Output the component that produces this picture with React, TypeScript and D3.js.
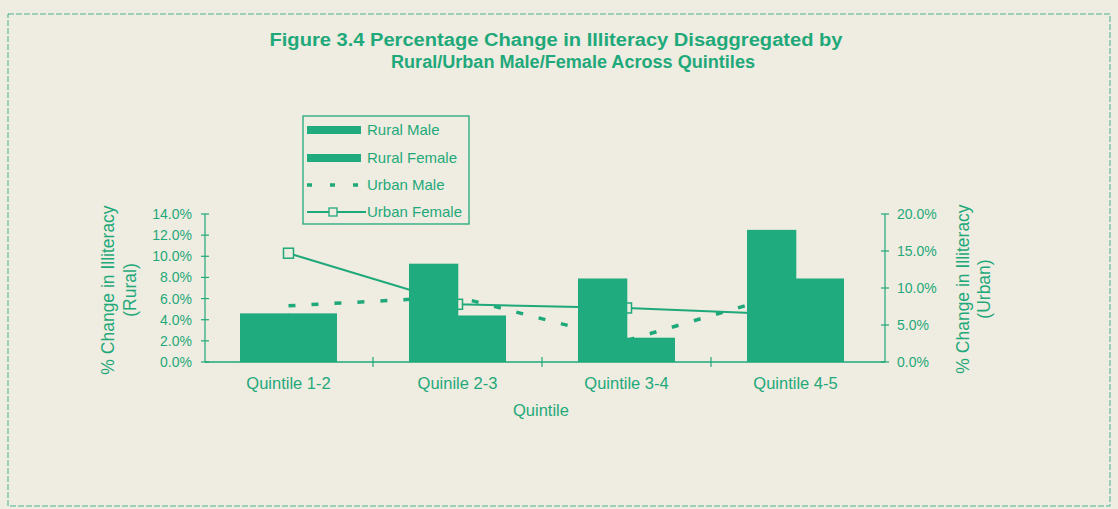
import React from "react";
import * as d3 from "d3";

const quintiles = ["Quintile 1-2", "Quinile 2-3", "Quintile 3-4", "Quintile 4-5"];
const ruralMale = [4.6, 9.3, 7.9, 12.5];
const ruralFemale = [4.6, 4.4, 2.3, 7.9];
const urbanMale = [7.6, 8.8, 2.9, 9.6];
const urbanFemale = [14.7, 7.8, 7.3, 6.4];
const leftTicks = [0, 2, 4, 6, 8, 10, 12, 14];
const rightTicks = [0, 5, 10, 15, 20];
const legendLabels = ["Rural Male", "Rural Female", "Urban Male", "Urban Female"];

const W = 1118;
const H = 509;
const BG = "#efece1";
const GREEN = "#1fa97a";
const BAR = "#1fab7d";
const FONT = "'Liberation Sans', Arial, sans-serif";

export default function App() {
  const x0 = d3.scaleBand<string>().domain(quintiles).range([204, 880]).paddingInner(0.426).paddingOuter(0.213);
  const x1 = d3.scaleBand<string>().domain(["m", "f"]).range([0, x0.bandwidth()]);
  const yL = d3.scaleLinear().domain([0, 14]).range([362, 214]);
  const yR = d3.scaleLinear().domain([0, 20]).range([362, 214]);
  const cx = (q: string) => (x0(q) as number) + x0.bandwidth() / 2;
  const lineGen = d3
    .line<[string, number]>()
    .x((d) => cx(d[0]))
    .y((d) => yR(d[1]));
  const umPts: [string, number][] = quintiles.map((q, i) => [q, urbanMale[i]]);
  const ufPts: [string, number][] = quintiles.map((q, i) => [q, urbanFemale[i]]);
  const step = x0.step();
  const boundaries = [1, 2, 3].map((i) => 204 + step * i);
  const axL = 205;
  const axR = 885;

  const legRows = [130, 158, 185, 212];

  return (
    <div style={{ position: "fixed", left: 0, top: 0, width: W, height: H, background: BG }}>
      <svg width={W} height={H} style={{ display: "block" }} fontFamily={FONT}>
        <rect x={0} y={0} width={W} height={H} fill={BG} />
        {/* outer border */}
        <rect x={8} y={14} width={1102} height={492} fill="none" stroke={GREEN} strokeWidth={1} strokeDasharray="6,2" opacity={0.8} />

        {/* title */}
        <text x={556} y={46} textAnchor="middle" fontSize={18} fontWeight="bold" fill={GREEN} textLength={573} lengthAdjust="spacingAndGlyphs">
          Figure 3.4 Percentage Change in Illiteracy Disaggregated by
        </text>
        <text x={573} y={68} textAnchor="middle" fontSize={18} fontWeight="bold" fill={GREEN} textLength={364} lengthAdjust="spacingAndGlyphs">
          Rural/Urban Male/Female Across Quintiles
        </text>

        {/* urban lines (behind bars) */}
        <path d={lineGen(umPts) || ""} fill="none" stroke={GREEN} strokeWidth={3.5} strokeDasharray="7,16" />
        <path d={lineGen(ufPts) || ""} fill="none" stroke={GREEN} strokeWidth={2} />
        {ufPts.map((p, i) => (
          <rect key={i} x={cx(p[0]) - 5} y={yR(p[1]) - 5} width={10} height={10} fill={BG} stroke={GREEN} strokeWidth={1.5} />
        ))}

        {/* bars */}
        {quintiles.map((q, i) => (
          <g key={q} transform={`translate(${x0(q)},0)`}>
            <rect x={x1("m")} y={yL(ruralMale[i])} width={x1.bandwidth() + 0.8} height={yL(0) - yL(ruralMale[i])} fill={BAR} />
            <rect x={x1("f")} y={yL(ruralFemale[i])} width={x1.bandwidth()} height={yL(0) - yL(ruralFemale[i])} fill={BAR} />
          </g>
        ))}

        {/* x axis */}
        <line x1={axL} x2={axR} y1={362} y2={362} stroke={GREEN} strokeWidth={1.5} />
        {boundaries.map((b, i) => (
          <line key={i} x1={b} x2={b} y1={357} y2={367} stroke={GREEN} strokeWidth={1.2} />
        ))}
        {quintiles.map((q) => (
          <text key={q} x={cx(q)} y={389} textAnchor="middle" fontSize={16.5} fill={GREEN}>
            {q}
          </text>
        ))}
        <text x={541} y={416} textAnchor="middle" fontSize={16.5} fill={GREEN}>
          Quintile
        </text>

        {/* left axis */}
        <line x1={axL} x2={axL} y1={yL(14)} y2={362} stroke={GREEN} strokeWidth={1.2} />
        {leftTicks.map((t) => (
          <g key={t}>
            <line x1={axL - 4} x2={axL + 4} y1={yL(t)} y2={yL(t)} stroke={GREEN} strokeWidth={1.2} />
            <text x={192} y={yL(t) + 5} textAnchor="end" fontSize={14} fill={GREEN}>
              {t.toFixed(1) + "%"}
            </text>
          </g>
        ))}
        <text transform={`translate(114,290) rotate(-90)`} textAnchor="middle" fontSize={17.5} fill={GREEN}>
          % Change in Illiteracy
        </text>
        <text transform={`translate(136,290) rotate(-90)`} textAnchor="middle" fontSize={17.5} fill={GREEN}>
          (Rural)
        </text>

        {/* right axis */}
        <line x1={axR} x2={axR} y1={yR(20)} y2={362} stroke={GREEN} strokeWidth={1.2} />
        {rightTicks.map((t) => (
          <g key={t}>
            <line x1={axR - 4} x2={axR + 4} y1={yR(t)} y2={yR(t)} stroke={GREEN} strokeWidth={1.2} />
            <text x={897} y={yR(t) + 5} textAnchor="start" fontSize={14} fill={GREEN}>
              {t.toFixed(1) + "%"}
            </text>
          </g>
        ))}
        <text transform={`translate(969,289) rotate(-90)`} textAnchor="middle" fontSize={17.5} fill={GREEN}>
          % Change in Illiteracy
        </text>
        <text transform={`translate(990,289) rotate(-90)`} textAnchor="middle" fontSize={17.5} fill={GREEN}>
          (Urban)
        </text>

        {/* legend */}
        <rect x={303} y={116} width={166} height={108} fill={BG} stroke={GREEN} strokeWidth={1.3} />
        <rect x={307} y={legRows[0] - 4} width={54} height={8} fill={BAR} />
        <rect x={307} y={legRows[1] - 4} width={54} height={8} fill={BAR} />
        <line x1={307} x2={366} y1={legRows[2]} y2={legRows[2]} stroke={GREEN} strokeWidth={3.5} strokeDasharray="5,18" />
        <line x1={307} x2={366} y1={legRows[3]} y2={legRows[3]} stroke={GREEN} strokeWidth={2} />
        <rect x={329} y={legRows[3] - 4} width={8} height={8} fill={BG} stroke={GREEN} strokeWidth={1.3} />
        {legendLabels.map((l, i) => (
          <text key={l} x={367} y={legRows[i] + 5} fontSize={15} fill={GREEN}>
            {l}
          </text>
        ))}
      </svg>
    </div>
  );
}
